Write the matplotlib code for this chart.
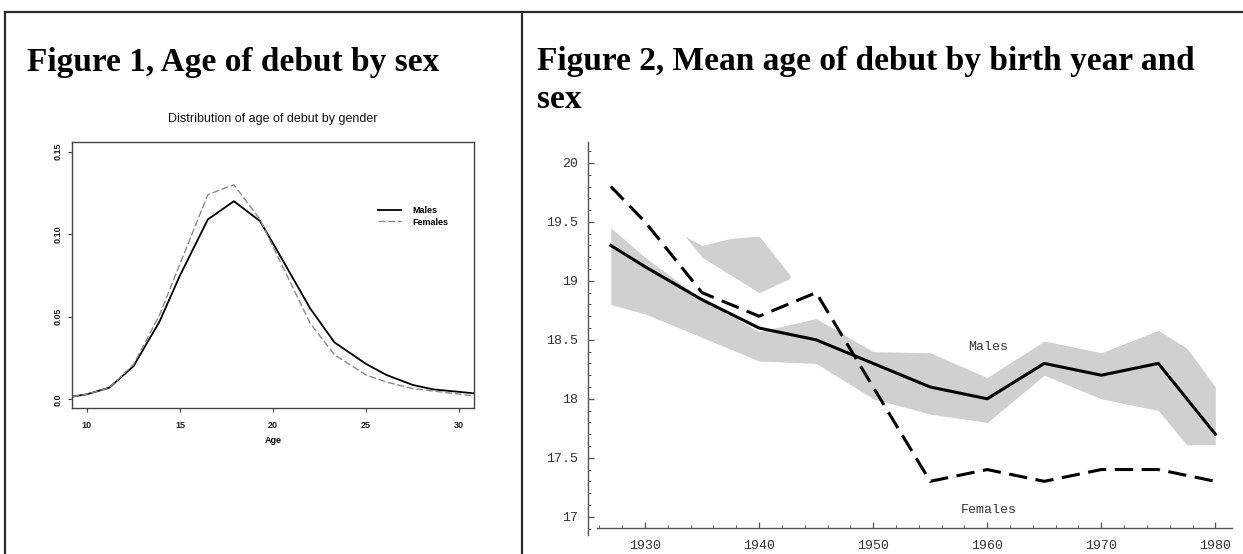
import matplotlib
matplotlib.use("Agg")
import matplotlib.pyplot as plt
from matplotlib.lines import Line2D
from matplotlib.ticker import MultipleLocator, FixedLocator

# ---------------- data ----------------
# Figure 1: distribution of age of debut
ages = [9.2, 10, 11.2, 12.5, 13.9, 15, 16.5, 17.9, 19.3, 20, 22, 23.3, 25, 26.1, 27.5, 28.6, 30.8]
males_density = [0.0016, 0.003, 0.007, 0.020, 0.047, 0.075, 0.109, 0.120, 0.108, 0.0945,
                 0.055, 0.0345, 0.0214, 0.0147, 0.0087, 0.006, 0.0036]
females_density = [0.0016, 0.003, 0.007, 0.021, 0.051, 0.082, 0.124, 0.130, 0.109, 0.0925,
                   0.046, 0.027, 0.0147, 0.0104, 0.0065, 0.005, 0.002]
x_ticks_left = [10, 15, 20, 25, 30]
y_ticks_left = [0.0, 0.05, 0.10, 0.15]
y_ticklabels_left = ["0.0", "0.05", "0.10", "0.15"]

# Figure 2: mean age of debut by birth year
years_m = [1927, 1930, 1935, 1940, 1945, 1950, 1955, 1960, 1965, 1970, 1975, 1980]
male_mean = [19.3, 19.12, 18.84, 18.6, 18.5, 18.3, 18.1, 18.0, 18.3, 18.2, 18.3, 17.7]
years_f = [1927, 1930, 1935, 1940, 1945, 1950, 1955, 1960, 1965, 1970, 1975, 1980]
female_mean = [19.8, 19.5, 18.9, 18.7, 18.9, 18.1, 17.3, 17.4, 17.3, 17.4, 17.4, 17.3]
band_years = [1927, 1930, 1935, 1940, 1945, 1950, 1955, 1960, 1965, 1970, 1975, 1977.5, 1980]
male_upper = [19.45, 19.2, 18.84, 18.57, 18.68, 18.4, 18.39, 18.18, 18.49, 18.39, 18.58, 18.43, 18.1]
male_lower = [18.8, 18.72, 18.52, 18.32, 18.3, 18.0, 17.87, 17.8, 18.2, 18.0, 17.9, 17.61, 17.61]
patch_years = [1933.5, 1935, 1937.5, 1940, 1942.7]
patch_upper = [19.38, 19.3, 19.36, 19.38, 19.05]
patch_lower = [19.38, 19.2, 19.05, 18.9, 19.02]
x_ticks_right = [1930, 1940, 1950, 1960, 1970, 1980]
y_ticks_right = [17, 17.5, 18, 18.5, 19, 19.5, 20]
y_ticklabels_right = ["17", "17.5", "18", "18.5", "19", "19.5", "20"]

# ---------------- figure ----------------
W, H = 1243, 554
fig = plt.figure(figsize=(W / 100, H / 100), dpi=100)
fig.patch.set_facecolor("white")

def fx(px):
    return px / W

def fy(py):
    return 1 - py / H

# panel borders
border_kw = dict(color="#2a2a2a", lw=1.6, transform=fig.transFigure)
fig.add_artist(Line2D([fx(5), fx(W)], [fy(12), fy(12)], **border_kw))
fig.add_artist(Line2D([fx(5), fx(5)], [fy(12), fy(H)], **border_kw))
fig.add_artist(Line2D([fx(521.5), fx(521.5)], [fy(12), fy(H)], **border_kw))

serif = ["Liberation Serif", "DejaVu Serif"]
title_size = 24
fig.text(fx(27), fy(71), "Figure 1, Age of debut by sex", family=serif,
         fontweight="bold", fontsize=title_size, va="baseline", ha="left")
fig.text(fx(537), fy(70), "Figure 2, Mean age of debut by birth year and", family=serif,
         fontweight="bold", fontsize=title_size, va="baseline", ha="left")
fig.text(fx(537), fy(108), "sex", family=serif,
         fontweight="bold", fontsize=title_size, va="baseline", ha="left")

# ---------------- left chart ----------------
axL = fig.add_axes([fx(72), fy(408), fx(474) - fx(72), fy(142) - fy(408)])
axL.plot(ages, males_density, color="black", lw=1.3, label="Males")
axL.plot(ages, females_density, color="#8a8a8a", lw=1.0, dashes=(5, 2), label="Females")
axL.set_xlim(9.2, 30.8)
axL.set_ylim(-0.0053, 0.1559)
axL.set_xticks(x_ticks_left)
axL.set_yticks(y_ticks_left)
axL.set_yticklabels(y_ticklabels_left, rotation=90, va="center")
for s in axL.spines.values():
    s.set_color("#444444")
    s.set_linewidth(1.0)
axL.tick_params(axis="both", direction="out", length=3, width=0.8, color="#444444",
                labelsize=6.5, labelcolor="#222222")
axL.tick_params(axis="x", pad=6)
axL.tick_params(axis="y", pad=4)
for lab in axL.get_xticklabels() + axL.get_yticklabels():
    lab.set_fontweight("bold")
    lab.set_family(["Liberation Sans", "DejaVu Sans"])
axL.set_xlabel("Age", fontsize=6.5, fontweight="bold", family=["Liberation Sans", "DejaVu Sans"],
               labelpad=5)
fig.text(fx(272.5), fy(119), "Distribution of age of debut by gender", ha="center", va="center",
         fontsize=9, family=["Liberation Sans", "DejaVu Sans"], color="#111111")
leg = axL.legend(loc="center left", bbox_to_anchor=(0.761, 0.72), frameon=False,
                 prop={"size": 6.5, "weight": "bold", "family": ["Liberation Sans", "DejaVu Sans"]},
                 handlelength=2.6, handletextpad=1.2, labelspacing=0.25,
                 borderpad=0, borderaxespad=0)

# ---------------- right chart ----------------
x_lo, x_hi = 1925.0, 1981.46
y_lo, y_hi = 16.845, 20.18
axR = fig.add_axes([fx(588), fy(535), fx(1232) - fx(588), fy(141.7) - fy(535)])
axR.set_xlim(x_lo, x_hi)
axR.set_ylim(y_lo, y_hi)
band_color = "#d0d0d0"
axR.fill_between(band_years, male_lower, male_upper, color=band_color, lw=0, zorder=1)
axR.fill_between(patch_years, patch_lower, patch_upper, color=band_color, lw=0, zorder=1)
axR.plot(years_m, male_mean, color="black", lw=2.2, solid_joinstyle="round", zorder=3)
fl, = axR.plot(years_f, female_mean, color="black", lw=2.2, zorder=3)
fl.set_dashes((6.0, 2.8))

mono = ["Liberation Mono", "DejaVu Sans Mono"]
axR.text(1960.1, 18.44, "Males", ha="center", va="center", fontsize=9.5, family=mono, color="#333333")
axR.text(1960.1, 17.06, "Females", ha="center", va="center", fontsize=9.5, family=mono, color="#333333")

for side in ["top", "right"]:
    axR.spines[side].set_visible(False)
axR.spines["bottom"].set_position(("data", 16.907))
axR.spines["bottom"].set_bounds(1925.76, x_hi)
axR.spines["left"].set_bounds(y_lo, y_hi)
for side in ["bottom", "left"]:
    axR.spines[side].set_color("#555555")
    axR.spines[side].set_linewidth(1.0)

axR.xaxis.set_major_locator(FixedLocator(x_ticks_right))
axR.xaxis.set_minor_locator(MultipleLocator(2))
axR.yaxis.set_major_locator(FixedLocator(y_ticks_right))
axR.yaxis.set_minor_locator(MultipleLocator(0.1))
axR.set_yticklabels(y_ticklabels_right)
axR.tick_params(axis="both", which="major", direction="in", length=4.5, width=0.9,
                color="#555555", labelsize=9.5, labelcolor="#333333")
axR.tick_params(axis="both", which="minor", direction="in", length=2.2, width=0.7, color="#555555")
axR.tick_params(axis="x", which="major", pad=9)
axR.tick_params(axis="y", which="major", pad=7)
for lab in axR.get_xticklabels() + axR.get_yticklabels():
    lab.set_family(mono)

fig.savefig("out.png", dpi=100, facecolor="white")
